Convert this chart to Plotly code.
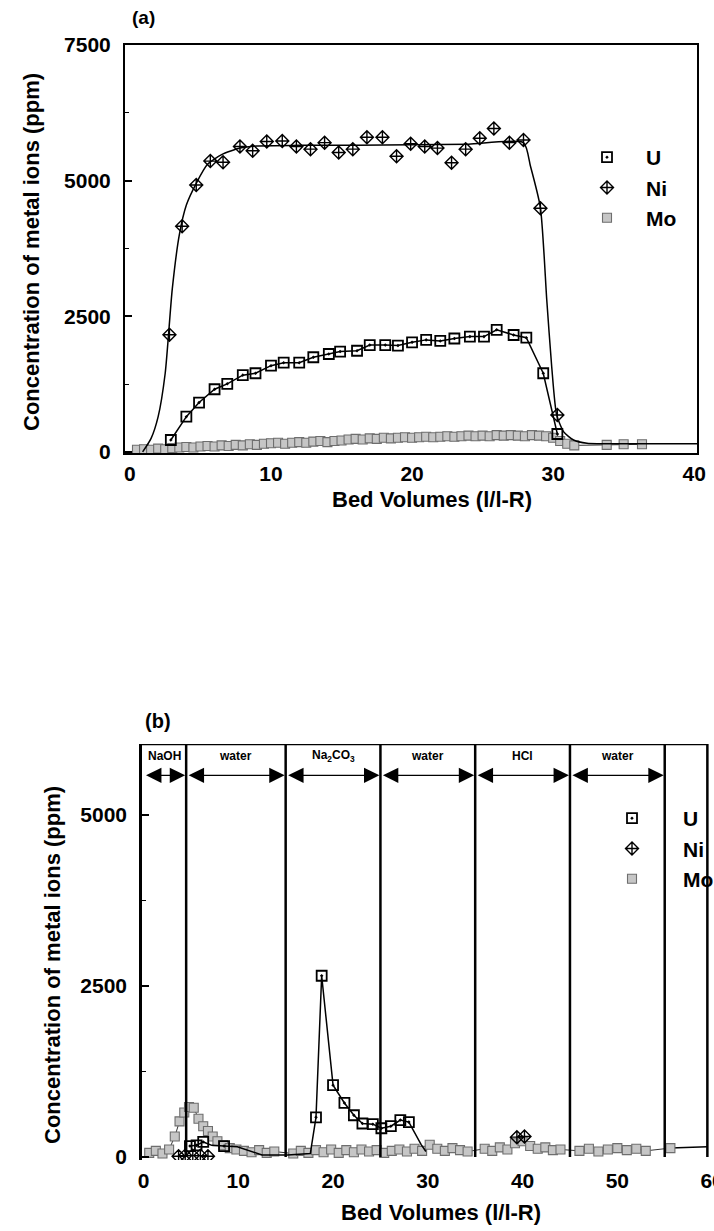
import plotly.graph_objects as go

# ---------------- Panel (a) data : loading ----------------
u_a_x = [2.9, 4.0, 4.9, 6.0, 6.9, 8.0, 8.9, 10.0, 10.9, 12.0, 13.0, 14.1, 14.9, 16.1,
         17.0, 18.1, 19.0, 20.0, 21.0, 22.0, 23.0, 24.1, 25.1, 26.0, 27.2, 28.1, 29.3, 30.3]
u_a_y = [220, 650, 910, 1155, 1255, 1415, 1450, 1590, 1645, 1645, 1745, 1805, 1850, 1865,
         1970, 1970, 1960, 2020, 2065, 2045, 2090, 2125, 2125, 2250, 2155, 2105, 1450, 330]

ni_a_x = [2.8, 3.7, 4.7, 5.7, 6.6, 7.8, 8.7, 9.7, 10.8, 11.8, 12.8, 13.8, 14.8, 15.8,
          16.8, 17.9, 18.9, 19.9, 20.9, 21.8, 22.8, 23.8, 24.8, 25.8, 26.9, 27.9, 29.1, 30.3]
ni_a_y = [2160, 4160, 4920, 5360, 5340, 5630, 5550, 5720, 5730, 5630, 5580, 5700, 5520, 5580,
          5800, 5800, 5450, 5680, 5630, 5600, 5330, 5580, 5780, 5960, 5700, 5750, 4490, 680]

# smooth fitted Ni breakthrough curve
ni_fit_x = [0.9, 1.5, 2.0, 2.5, 3.0, 3.5, 4.0, 4.7, 5.5, 6.5, 7.8, 9.0, 12.0, 16.0, 20.0,
            24.0, 27.9, 28.4, 29.1, 29.55, 29.9, 30.25, 30.75, 31.45, 32.4, 36.0, 40.2]
ni_fit_y = [0, 250, 650, 1450, 3000, 4000, 4550, 4950, 5300, 5480, 5600, 5640, 5650, 5650, 5660,
            5670, 5700, 5260, 4500, 2800, 1570, 680, 370, 220, 160, 150, 150]

mo_a_x = [0.5, 1.0, 1.5, 2.0, 2.5, 3.0, 3.5, 4.0, 4.5, 5.0, 5.5, 6.0, 6.5, 7.0, 7.5, 8.0,
          8.5, 9.0, 9.5, 10.0, 10.5, 11.0, 11.5, 12.0, 12.5, 13.0, 13.5, 14.0, 14.5, 15.0,
          15.5, 16.0, 16.5, 17.0, 17.5, 18.0, 18.5, 19.0, 19.5, 20.0, 20.5, 21.0, 21.5, 22.0,
          22.5, 23.0, 23.5, 24.0, 24.5, 25.0, 25.5, 26.0, 26.5, 27.0, 27.5, 28.0, 28.5, 29.0,
          29.5, 30.0, 30.5, 31.0, 31.5, 33.8, 35.0, 36.3]
mo_a_y = [40, 50, 40, 60, 50, 70, 80, 90, 80, 100, 110, 100, 120, 110, 130, 120,
          140, 130, 150, 160, 170, 150, 170, 180, 170, 190, 200, 180, 200, 210,
          230, 240, 230, 250, 240, 260, 250, 260, 270, 260, 270, 280, 270, 280,
          290, 280, 290, 300, 290, 300, 290, 310, 300, 310, 300, 290, 310, 300,
          290, 260, 200, 150, 120, 130, 140, 140]

# ---------------- Panel (b) data : elution ----------------
phase_bounds = [0, 4.5, 15, 25, 35, 45, 55]
phase_labels = ["NaOH", "water", "Na<sub>2</sub>CO<sub>3</sub>", "water", "HCl", "water"]

u_b_x = [4.9, 5.6, 6.3, 8.5, 18.2, 18.8, 20.0, 21.2, 22.2, 23.1, 24.2, 25.1, 26.1, 27.1, 28.0]
u_b_y = [160, 170, 220, 160, 580, 2650, 1050, 790, 610, 490, 480, 420, 450, 540, 510]
u_b_line_x = [4.9, 5.6, 6.3, 7.2, 8.5, 9.9, 12.5, 15.2, 17.6, 18.2, 18.8, 20.0, 21.2, 22.2,
              23.1, 24.2, 25.1, 26.1, 27.1, 28.0, 29.3, 29.8]
u_b_line_y = [160, 170, 220, 170, 160, 150, 30, 30, 50, 580, 2650, 1050, 790, 610,
              490, 480, 420, 450, 540, 510, 180, 80]

ni_b_x = [3.7, 4.4, 5.2, 6.0, 6.8, 39.4, 40.2]
ni_b_y = [10, 20, 20, 20, 10, 290, 300]

mo_b_x = [0.6, 1.3, 2.0, 2.7, 3.3, 3.8, 4.3, 4.8, 5.3, 5.8, 6.3, 6.8, 7.3, 7.8, 8.4, 9.1,
          9.8, 10.6, 11.4, 12.2, 13.0, 13.8, 15.8, 16.6, 17.4, 18.2, 19.0, 19.8, 20.6, 21.4,
          22.2, 23.0, 23.8, 24.6, 25.4, 26.2, 27.0, 27.8, 28.6, 29.4, 30.2, 31.0, 31.8, 32.6,
          33.4, 34.2, 36.0, 36.8, 37.6, 38.4, 39.2, 40.0, 40.8, 41.6, 42.4, 43.2, 44.0, 46.0,
          47.0, 48.0, 49.0, 50.0, 51.0, 52.0, 53.0, 55.6]
mo_b_y = [60, 90, 50, 110, 300, 520, 650, 730, 720, 560, 450, 380, 300, 230, 170, 130,
          110, 90, 70, 100, 60, 80, 50, 90, 60, 100, 70, 110, 60, 100,
          70, 110, 80, 100, 60, 90, 110, 80, 120, 90, 180, 120, 90, 130,
          100, 80, 120, 90, 140, 110, 200, 230, 160, 120, 140, 100, 110, 90,
          120, 80, 110, 130, 100, 120, 90, 130]
mo_b_tail_x = [55.6, 59.5]
mo_b_tail_y = [130, 150]

# ---------------- layout helpers ----------------
W, H = 714, 1231
FONT = "Liberation Sans"


def fx(px):
    return px / W


def fy(py):
    return 1 - py / H


def bold(size):
    return dict(family=FONT, size=size, color="black", weight="bold")


U_MARK = dict(symbol="square-open-dot", size=10, color="black", line=dict(width=1.8, color="black"))
NI_MARK = dict(symbol="diamond-cross-open", size=10, color="black", line=dict(width=1.4, color="black"))
MO_MARK = dict(symbol="square", size=9, color="#c6c6c6", line=dict(width=1.1, color="#6e6e6e"))

fig = go.Figure()

# ---- panel (a) ----
fig.add_trace(go.Scatter(x=mo_a_x, y=mo_a_y, mode="lines", line=dict(color="black", width=0.8),
                         xaxis="x", yaxis="y", showlegend=False, hoverinfo="skip"))
fig.add_trace(go.Scatter(x=mo_a_x, y=mo_a_y, mode="markers", marker=MO_MARK, name="Mo",
                         xaxis="x", yaxis="y", legend="legend", legendgroup="a_mo", legendrank=3))
fig.add_trace(go.Scatter(x=ni_fit_x, y=ni_fit_y, mode="lines",
                         line=dict(color="black", width=1.5, shape="spline", smoothing=0.6),
                         xaxis="x", yaxis="y", showlegend=False, hoverinfo="skip"))
fig.add_trace(go.Scatter(x=u_a_x, y=u_a_y, mode="lines", line=dict(color="black", width=1.5),
                         xaxis="x", yaxis="y", showlegend=False, hoverinfo="skip"))
fig.add_trace(go.Scatter(x=u_a_x, y=u_a_y, mode="markers", marker=U_MARK, name="U",
                         xaxis="x", yaxis="y", legend="legend", legendgroup="a_u", legendrank=1))
fig.add_trace(go.Scatter(x=ni_a_x, y=ni_a_y, mode="markers", marker=NI_MARK, name="Ni",
                         xaxis="x", yaxis="y", legend="legend", legendgroup="a_ni", legendrank=2))

# ---- panel (b) ----
fig.add_trace(go.Scatter(x=mo_b_x, y=mo_b_y, mode="lines", line=dict(color="black", width=0.8),
                         xaxis="x2", yaxis="y2", showlegend=False, hoverinfo="skip"))
fig.add_trace(go.Scatter(x=mo_b_tail_x, y=mo_b_tail_y, mode="lines", line=dict(color="black", width=1.5),
                         xaxis="x2", yaxis="y2", showlegend=False, hoverinfo="skip"))
fig.add_trace(go.Scatter(x=mo_b_x, y=mo_b_y, mode="markers", marker=MO_MARK, name="Mo",
                         xaxis="x2", yaxis="y2", legend="legend2", legendgroup="b_mo", legendrank=3))
fig.add_trace(go.Scatter(x=u_b_line_x, y=u_b_line_y, mode="lines", line=dict(color="black", width=1.5),
                         xaxis="x2", yaxis="y2", showlegend=False, hoverinfo="skip"))
fig.add_trace(go.Scatter(x=u_b_x, y=u_b_y, mode="markers", marker=U_MARK, name="U",
                         xaxis="x2", yaxis="y2", legend="legend2", legendgroup="b_u", legendrank=1))
fig.add_trace(go.Scatter(x=ni_b_x, y=ni_b_y, mode="markers", marker=NI_MARK, name="Ni",
                         xaxis="x2", yaxis="y2", legend="legend2", legendgroup="b_ni", legendrank=2))

YA_TOP = 7500
YB_TOP = 6038
XB_FRAME = 59.5

shapes = []
# panel (b) frame: top and right edges
shapes.append(dict(type="line", xref="x2", yref="y2", x0=-0.16, x1=XB_FRAME, y0=YB_TOP, y1=YB_TOP,
                   line=dict(color="black", width=2.5)))
shapes.append(dict(type="line", xref="x2", yref="y2", x0=XB_FRAME, x1=XB_FRAME, y0=0, y1=YB_TOP,
                   line=dict(color="black", width=2.5)))
# phase boundary lines
for b in phase_bounds[1:]:
    shapes.append(dict(type="line", xref="x2", yref="y2", x0=b, x1=b, y0=0, y1=YB_TOP,
                       line=dict(color="black", width=2.5)))

annotations = []
ARROW_Y = 5580
LABEL_Y = 5860
for i, lab in enumerate(phase_labels):
    a, b = phase_bounds[i], phase_bounds[i + 1]
    annotations.append(dict(xref="x2", yref="y2", axref="x2", ayref="y2", x=b, y=ARROW_Y,
                            ax=a, ay=ARROW_Y, text="", showarrow=True, arrowside="end+start",
                            arrowhead=2, startarrowhead=2, arrowsize=2.2, startarrowsize=2.2,
                            arrowwidth=1.4, arrowcolor="black", standoff=1, startstandoff=1))
    annotations.append(dict(xref="x2", yref="y2", x=(a + b) / 2, y=LABEL_Y, text=lab,
                            xanchor="center", yanchor="middle",
                            showarrow=False, font=bold(12)))


def txt(x, y, text, size, angle=0):
    return dict(xref="paper", yref="paper", x=fx(x), y=fy(y), text=text, textangle=angle,
                xanchor="center", yanchor="middle", showarrow=False, font=bold(size))


annotations += [
    txt(143, 18, "(a)", 19),
    txt(158, 721, "(b)", 20),
    txt(32, 252, "Concentration of metal ions (ppm)", 22, -90),
    txt(52, 965, "Concentration of metal ions (ppm)", 22, -90),
    txt(432, 500, "Bed Volumes (l/l-R)", 22),
    txt(441, 1212, "Bed Volumes (l/l-R)", 22),
]

fig.update_layout(
    width=W, height=H,
    margin=dict(l=0, r=0, t=0, b=0, autoexpand=False),
    paper_bgcolor="white", plot_bgcolor="white",
    font=dict(family=FONT, color="black"),
    xaxis=dict(domain=[fx(125), fx(697)], range=[-0.35, 40.2], anchor="y",
               tickvals=[0, 10, 20, 30, 40], ticks="", showgrid=False, zeroline=False,
               showline=True, linewidth=2, linecolor="black", mirror=True,
               tickfont=bold(21), ticklabelstandoff=1),
    yaxis=dict(domain=[fy(453), fy(45)], range=[-20, YA_TOP], anchor="x",
               tickvals=[0, 2500, 5000, 7500], ticks="inside", ticklen=7, tickwidth=1.5,
               tickcolor="black", minor=dict(dtick=1250, tick0=0, ticks="inside", ticklen=4,
                                             tickwidth=1.2, tickcolor="black", showgrid=False),
               showgrid=False, zeroline=False, showline=True, linewidth=2, linecolor="black",
               mirror=True, tickfont=bold(21), ticklabelstandoff=8),
    xaxis2=dict(domain=[fx(142), fx(714)], range=[-0.16, 60.2], anchor="y2",
                tickvals=[0, 10, 20, 30, 40, 50, 60], ticks="", showgrid=False, zeroline=False,
                showline=False, tickfont=bold(21), ticklabelstandoff=6,
                ticklabeloverflow="allow"),
    yaxis2=dict(domain=[fy(1160), fy(744)], range=[-44, YB_TOP], anchor="x2",
                tickvals=[0, 2500, 5000], ticks="inside", ticklen=7, tickwidth=1.5,
                tickcolor="black", minor=dict(dtick=1250, tick0=0, ticks="inside", ticklen=4,
                                              tickwidth=1.2, tickcolor="black", showgrid=False),
                showgrid=False, zeroline=False, showline=True, linewidth=2.5, linecolor="black",
                tickfont=bold(21), ticklabelstandoff=8),
    legend=dict(xref="container", yref="container", x=fx(568), y=fy(137), xanchor="left",
                yanchor="top", font=bold(21), itemwidth=68, tracegroupgap=5,
                bgcolor="rgba(0,0,0,0)", traceorder="normal"),
    legend2=dict(xref="container", yref="container", x=fx(581), y=fy(798), xanchor="left",
                 yanchor="top", font=bold(21), itemwidth=92, tracegroupgap=5,
                 bgcolor="rgba(0,0,0,0)", traceorder="normal"),
    shapes=shapes,
    annotations=annotations,
)

fig.write_html("out.html")
